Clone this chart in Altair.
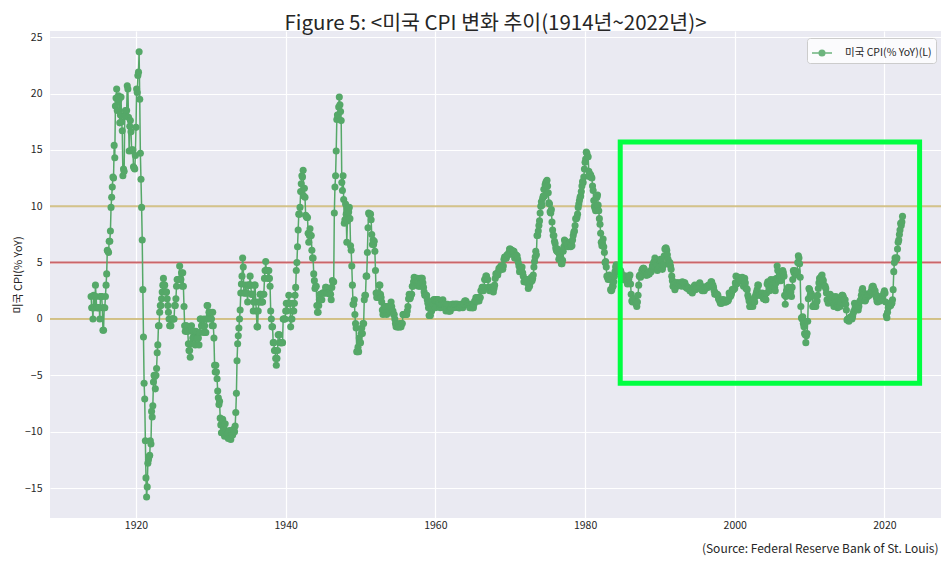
import altair as alt
import pandas as pd

# Monthly US CPI, % YoY, one row of 12 months per year
cpi_1910s = [
    [2.0, 1.0, 1.0, 0.0, 2.1, 1.0, 1.0, 3.0, 2.0, 1.0, 1.0, 1.0],            # 1914
    [1.0, 1.0, 0.0, 2.0, 2.0, 2.0, 1.0, -1.0, -1.0, 1.0, 1.0, 2.0],          # 1915
    [3.0, 4.0, 6.1, 6.0, 5.9, 6.9, 6.9, 7.8, 9.9, 10.8, 11.7, 12.6],         # 1916
    [12.5, 15.4, 14.3, 18.9, 19.6, 20.4, 18.5, 19.3, 19.8, 19.5, 17.4, 18.1],
    [19.7, 17.5, 16.7, 12.7, 13.3, 13.1, 18.0, 18.5, 18.0, 18.5, 20.7, 20.4],
    [17.9, 14.9, 17.1, 17.6, 16.6, 15.0, 14.9, 15.0, 13.5, 13.4, 13.3, 14.5],
]
cpi_1920s = [
    [17.0, 20.4, 20.1, 21.6, 21.9, 23.7, 19.5, 14.7, 12.4, 9.9, 7.0, 2.6],
    [-1.6, -5.7, -7.1, -10.8, -14.1, -15.8, -14.9, -12.8, -12.5, -12.2, -12.1, -10.8],
    [-11.1, -8.2, -8.7, -7.7, -5.6, -5.0, -5.1, -6.2, -5.0, -4.4, -3.0, -2.3],
    [-0.6, -0.6, 0.6, 1.2, 1.2, 1.8, 2.4, 3.0, 3.6, 3.0, 3.0, 2.4],
    [2.4, 2.4, 1.8, 1.2, 0.6, 0.0, -0.6, -0.6, -0.6, 0.0, 0.0, 0.0],
    [0.0, 0.0, 1.2, 1.2, 1.8, 2.9, 3.5, 3.5, 3.5, 3.5, 4.7, 3.5],
    [3.5, 4.1, 2.9, 4.1, 2.9, 1.1, -0.6, -1.1, -0.6, -0.6, -1.1, -1.1],
    [-2.2, -2.8, -2.8, -3.4, -2.2, -0.6, -1.1, -1.7, -1.7, -1.1, -1.7, -2.3],
    [-1.1, -1.7, -1.7, -1.7, -1.7, -2.3, -1.2, 0.0, 0.0, -0.6, -0.6, -0.6],
    [-1.2, 0.0, -0.6, -1.2, -1.2, 0.0, 1.2, 1.2, 0.0, 0.6, 0.6, 0.6],
]
cpi_1930s = [
    [0.0, 0.0, -0.6, 0.6, -0.6, -1.7, -4.1, -4.7, -4.1, -4.7, -5.3, -6.4],
    [-7.0, -7.6, -7.3, -8.8, -9.4, -10.1, -9.0, -8.9, -9.6, -9.7, -10.4, -9.3],
    [-10.1, -10.3, -10.2, -10.2, -10.6, -10.0, -9.9, -10.6, -10.7, -10.0, -10.2, -10.3],
    [-9.8, -9.8, -10.0, -9.5, -8.3, -6.6, -3.7, -2.2, -1.5, -0.8, 0.0, 0.8],
    [2.3, 3.1, 3.8, 5.4, 4.6, 2.3, 2.3, 2.3, 3.0, 2.3, 2.3, 1.5],
    [3.0, 3.0, 3.0, 3.8, 3.0, 2.2, 2.2, 2.2, 0.7, 1.5, 3.0, 3.0],
    [1.5, 0.7, -0.7, -0.7, 0.7, 1.5, 1.5, 2.2, 2.2, 1.5, 1.5, 1.5],
    [2.2, 2.2, 3.6, 4.3, 5.1, 4.3, 4.3, 4.3, 3.6, 4.3, 3.6, 2.9],
    [0.7, 0.0, -0.7, -0.7, -2.1, -2.1, -2.8, -2.8, -3.5, -4.1, -3.5, -2.8],
    [-1.4, -1.4, -1.4, -2.1, -2.1, -2.1, -2.1, -2.1, 0.0, 0.0, 0.0, 0.0],
]
cpi_1940s = [
    [0.7, 1.4, 0.7, 1.4, 1.4, 2.1, 1.4, 1.4, -0.7, 0.0, 0.0, 0.7],
    [1.4, 0.7, 1.4, 2.1, 2.8, 4.3, 5.0, 6.4, 7.9, 9.3, 9.3, 9.9],
    [11.3, 12.0, 12.7, 12.6, 13.2, 10.9, 11.6, 10.8, 9.2, 9.1, 9.0, 9.0],
    [7.6, 6.8, 7.4, 8.0, 7.4, 7.4, 6.1, 5.4, 5.4, 4.0, 3.4, 2.7],
    [2.9, 2.9, 1.2, 0.6, 0.6, 1.2, 1.7, 2.2, 1.7, 1.7, 1.7, 2.3],
    [2.3, 2.3, 2.3, 2.3, 2.8, 2.8, 2.3, 2.3, 2.3, 2.3, 2.3, 2.2],
    [2.2, 1.7, 2.8, 3.4, 3.3, 3.3, 9.4, 11.7, 12.7, 14.9, 17.7, 18.1],
    [18.1, 18.8, 19.7, 19.0, 18.4, 17.6, 12.1, 11.4, 12.7, 10.6, 8.5, 8.8],
    [10.2, 9.3, 6.8, 8.7, 9.1, 9.5, 9.9, 8.9, 6.5, 6.1, 4.7, 3.0],
    [1.3, 1.3, 1.7, 0.4, -0.4, -0.8, -2.9, -2.9, -2.5, -2.9, -1.7, -2.1],
]
cpi_1950s = [
    [-2.1, -1.3, -0.8, -1.3, -0.4, -0.4, 1.7, 2.1, 2.1, 3.8, 3.8, 5.9],
    [8.1, 9.4, 9.3, 9.3, 9.3, 8.8, 7.5, 6.6, 7.0, 6.6, 6.9, 6.0],
    [4.3, 2.3, 1.9, 2.3, 1.9, 2.3, 3.0, 3.0, 2.2, 1.9, 1.5, 0.8],
    [0.4, 0.8, 1.1, 0.8, 1.1, 1.1, 0.4, 0.7, 0.7, 1.1, 0.7, 0.7],
    [1.1, 1.5, 1.1, 0.7, 0.7, 0.4, 0.4, 0.0, -0.4, -0.7, -0.4, -0.7],
    [-0.7, -0.7, -0.7, -0.4, -0.7, -0.7, -0.4, -0.4, 0.4, 0.4, 0.4, 0.4],
    [0.4, 0.4, 0.4, 0.7, 1.1, 1.8, 2.2, 1.8, 1.9, 2.2, 2.2, 2.9],
    [2.9, 3.3, 3.7, 3.6, 3.6, 3.3, 3.3, 3.6, 3.3, 2.9, 3.3, 2.9],
    [3.6, 3.2, 3.6, 3.6, 3.2, 2.8, 2.4, 2.1, 2.1, 2.1, 2.1, 1.7],
    [1.4, 1.0, 0.3, 0.3, 0.3, 0.7, 0.7, 1.0, 1.3, 1.7, 1.7, 1.7],
]
cpi_1960s = [
    [1.0, 1.7, 1.7, 1.7, 1.7, 1.7, 1.4, 1.4, 1.0, 1.3, 1.3, 1.3],
    [1.7, 1.3, 1.3, 1.0, 1.0, 0.7, 1.3, 1.0, 1.3, 0.7, 0.7, 0.7],
    [0.7, 1.0, 1.0, 1.3, 1.3, 1.3, 1.0, 1.3, 1.3, 1.3, 1.3, 1.3],
    [1.3, 1.0, 1.0, 1.0, 1.0, 1.3, 1.3, 1.3, 1.0, 1.3, 1.3, 1.6],
    [1.6, 1.6, 1.3, 1.3, 1.3, 1.3, 1.3, 1.0, 1.3, 1.0, 1.3, 1.0],
    [1.0, 1.0, 1.3, 1.6, 1.6, 1.9, 1.6, 1.9, 1.6, 1.9, 1.6, 1.9],
    [1.9, 2.5, 2.5, 2.8, 2.8, 2.5, 2.8, 3.5, 3.5, 3.8, 3.8, 3.5],
    [3.5, 2.8, 2.8, 2.5, 2.8, 2.8, 2.8, 2.5, 2.8, 2.4, 2.7, 3.0],
    [3.6, 4.0, 4.0, 3.9, 3.9, 4.2, 4.5, 4.5, 4.4, 4.7, 4.7, 4.7],
    [4.4, 4.7, 5.3, 5.5, 5.5, 5.5, 5.4, 5.7, 5.7, 5.7, 5.9, 6.2],
]
cpi_1970s = [
    [6.2, 6.1, 5.8, 6.1, 6.0, 6.0, 6.0, 5.4, 5.7, 5.7, 5.6, 5.6],
    [5.3, 5.0, 4.7, 4.2, 4.4, 4.6, 4.4, 4.6, 4.1, 3.8, 3.3, 3.3],
    [3.3, 3.5, 3.5, 3.5, 3.2, 2.7, 2.9, 2.9, 3.2, 3.4, 3.7, 3.4],
    [3.6, 3.9, 4.6, 5.1, 5.5, 6.0, 5.7, 7.4, 7.4, 7.8, 8.3, 8.7],
    [9.4, 10.0, 10.4, 10.1, 10.7, 10.9, 11.5, 10.9, 11.9, 12.1, 12.2, 12.3],
    [11.8, 11.2, 10.3, 10.2, 9.5, 9.4, 9.7, 8.6, 7.9, 7.4, 7.4, 6.9],
    [6.7, 6.3, 6.1, 6.0, 6.2, 5.9, 5.3, 5.7, 5.5, 5.5, 4.9, 4.9],
    [5.2, 6.0, 6.4, 7.0, 6.7, 6.9, 6.8, 6.6, 6.6, 6.4, 6.7, 6.7],
    [6.8, 6.4, 6.6, 6.5, 7.0, 7.4, 7.7, 7.8, 8.3, 8.9, 8.9, 9.0],
    [9.3, 9.9, 10.2, 10.5, 10.8, 10.9, 11.3, 11.8, 12.2, 12.1, 12.6, 13.3],
]
cpi_1980s = [
    [13.9, 14.2, 14.8, 14.7, 14.4, 14.4, 13.1, 12.9, 12.6, 12.8, 12.6, 12.5],
    [11.8, 11.4, 10.5, 10.0, 9.8, 9.6, 10.8, 10.8, 11.0, 10.1, 9.6, 8.9],
    [8.4, 7.6, 6.8, 6.5, 6.7, 7.1, 6.4, 5.9, 5.0, 5.1, 4.6, 3.8],
    [3.7, 3.5, 3.6, 3.9, 3.5, 2.6, 2.5, 2.6, 2.9, 2.9, 3.3, 3.8],
    [4.2, 4.6, 4.8, 4.6, 4.2, 4.2, 4.2, 4.3, 4.3, 4.3, 4.1, 3.9],
    [3.5, 3.5, 3.7, 3.7, 3.8, 3.8, 3.6, 3.3, 3.1, 3.2, 3.5, 3.8],
    [3.9, 3.1, 2.2, 1.6, 1.5, 1.8, 1.6, 1.6, 1.8, 1.5, 1.3, 1.1],
    [1.5, 2.1, 3.0, 3.8, 3.9, 3.7, 3.9, 4.3, 4.4, 4.5, 4.5, 4.4],
    [4.0, 3.9, 3.9, 3.9, 3.9, 4.0, 4.1, 4.0, 4.2, 4.2, 4.2, 4.4],
    [4.7, 4.8, 5.0, 5.1, 5.4, 5.2, 5.0, 4.7, 4.3, 4.5, 4.7, 4.6],
]
cpi_1990s = [
    [5.2, 5.3, 5.2, 4.7, 4.4, 4.7, 4.8, 5.6, 6.2, 6.3, 6.3, 6.1],
    [5.7, 5.3, 4.9, 4.9, 5.0, 4.7, 4.4, 3.8, 3.4, 2.9, 3.0, 3.1],
    [2.6, 2.8, 3.2, 3.2, 3.0, 3.1, 3.2, 3.1, 3.0, 3.2, 3.0, 2.9],
    [3.3, 3.2, 3.1, 3.2, 3.2, 3.0, 2.8, 2.8, 2.7, 2.8, 2.7, 2.7],
    [2.5, 2.5, 2.5, 2.4, 2.3, 2.5, 2.8, 2.9, 3.0, 2.6, 2.7, 2.7],
    [2.8, 2.9, 2.9, 3.1, 3.2, 3.0, 2.8, 2.6, 2.5, 2.8, 2.6, 2.5],
    [2.7, 2.7, 2.8, 2.9, 2.9, 2.8, 3.0, 2.9, 3.0, 3.0, 3.3, 3.3],
    [3.0, 3.0, 2.8, 2.5, 2.2, 2.3, 2.2, 2.2, 2.2, 2.1, 1.8, 1.7],
    [1.6, 1.4, 1.4, 1.4, 1.7, 1.7, 1.7, 1.6, 1.5, 1.5, 1.5, 1.6],
    [1.7, 1.6, 1.7, 2.3, 2.1, 2.0, 2.1, 2.3, 2.6, 2.6, 2.6, 2.7],
]
cpi_2000s = [
    [2.7, 3.2, 3.8, 3.1, 3.2, 3.7, 3.7, 3.4, 3.5, 3.4, 3.4, 3.4],
    [3.7, 3.5, 2.9, 3.3, 3.6, 3.2, 2.7, 2.7, 2.6, 2.1, 1.9, 1.6],
    [1.1, 1.1, 1.5, 1.6, 1.2, 1.1, 1.5, 1.8, 1.5, 2.0, 2.2, 2.4],
    [2.6, 3.0, 3.0, 2.2, 2.1, 2.1, 2.1, 2.2, 2.3, 2.0, 1.8, 1.9],
    [1.9, 1.7, 1.7, 2.3, 3.1, 3.3, 3.0, 2.7, 2.5, 3.2, 3.5, 3.3],
    [3.0, 3.0, 3.1, 3.5, 2.8, 2.5, 3.2, 3.6, 4.7, 4.3, 3.5, 3.4],
    [4.0, 3.6, 3.4, 3.5, 4.2, 4.3, 4.1, 3.8, 2.1, 1.3, 2.0, 2.5],
    [2.1, 2.4, 2.8, 2.6, 2.7, 2.7, 2.4, 2.0, 2.8, 3.5, 4.3, 4.1],
    [4.3, 4.0, 4.0, 3.9, 4.2, 5.0, 5.6, 5.4, 4.9, 3.7, 1.1, 0.1],
    [0.0, 0.2, -0.4, -0.7, -1.3, -1.4, -2.1, -1.5, -1.3, -0.2, 1.8, 2.7],
]
cpi_2010s = [
    [2.6, 2.1, 2.3, 2.2, 2.0, 1.1, 1.2, 1.1, 1.1, 1.2, 1.1, 1.5],
    [1.6, 2.1, 2.7, 3.2, 3.6, 3.6, 3.6, 3.8, 3.9, 3.5, 3.4, 3.0],
    [2.9, 2.9, 2.7, 2.3, 1.7, 1.7, 1.4, 1.7, 2.0, 2.2, 1.8, 1.7],
    [1.6, 2.0, 1.5, 1.1, 1.4, 1.8, 2.0, 1.5, 1.2, 1.0, 1.2, 1.5],
    [1.6, 1.1, 1.5, 2.0, 2.1, 2.1, 2.0, 1.7, 1.7, 1.7, 1.3, 0.8],
    [-0.1, 0.0, -0.1, -0.2, 0.0, 0.1, 0.2, 0.2, 0.0, 0.2, 0.5, 0.7],
    [1.4, 1.0, 0.9, 1.1, 1.0, 1.0, 0.8, 1.1, 1.5, 1.6, 1.7, 2.1],
    [2.5, 2.7, 2.4, 2.2, 1.9, 1.6, 1.7, 1.9, 2.2, 2.0, 2.2, 2.1],
    [2.1, 2.2, 2.4, 2.5, 2.8, 2.9, 2.9, 2.7, 2.3, 2.5, 2.2, 1.9],
    [1.6, 1.5, 1.9, 2.0, 1.8, 1.6, 1.8, 1.7, 1.7, 1.8, 2.1, 2.3],
]
cpi_2020s = [
    [2.5, 2.3, 1.5, 0.3, 0.1, 0.6, 1.0, 1.3, 1.4, 1.2, 1.2, 1.4],
    [1.4, 1.7, 2.6, 4.2, 5.0, 5.4, 5.4, 5.3, 5.4, 6.2, 6.8, 7.0],
    [7.5, 7.9, 8.5, 8.3, 8.6, 9.1],
]
decade_starts = [1914, 1920, 1930, 1940, 1950, 1960, 1970, 1980, 1990, 2000, 2010, 2020]
decades = [cpi_1910s, cpi_1920s, cpi_1930s, cpi_1940s, cpi_1950s, cpi_1960s,
           cpi_1970s, cpi_1980s, cpi_1990s, cpi_2000s, cpi_2010s, cpi_2020s]

ref_levels = [10, 0, 5]
ref_colors = ["#ccb974", "#ccb974", "#c44e52"]
box_years = [1984.7, 2024.7]
box_values = [-5.7, 15.7]

series_name = "미국 CPI(% YoY)(L)"
title_text = "Figure 5: <미국 CPI 변화 추이(1914년~2022년)>"
source_text = "(Source: Federal Reserve Bank of St. Louis)"

rows = []
for start, rows_of_year in zip(decade_starts, decades):
    for i, months in enumerate(rows_of_year):
        for m, v in enumerate(months):
            rows.append({"t": start + i + m / 12.0, "v": v, "s": series_name})
df = pd.DataFrame(rows)

ref_df = pd.DataFrame({"y": ref_levels, "c": ref_colors})
box_df = pd.DataFrame({"x": [box_years[0]], "x2": [box_years[1]],
                       "y": [box_values[0]], "y2": [box_values[1]]})

FONT = "Noto Sans CJK KR"
xscale = alt.Scale(domain=[1908.51, 2027.56], nice=False, zero=False)
yscale = alt.Scale(domain=[-17.66, 25.55], nice=False, zero=False)

xaxis = alt.Axis(values=[1920, 1940, 1960, 1980, 2000, 2020], format="d",
                 title=source_text, titleAnchor="end", titleAlign="right",
                 titleFontSize=12, titleFontWeight="normal", titlePadding=13,
                 titleColor="#262626", titleX=888)
yaxis = alt.Axis(values=[-15, -10, -5, 0, 5, 10, 15, 20, 25],
                 title="미국 CPI(% YoY)", titleFontSize=11,
                 titleFontWeight="normal", titleColor="#262626", titlePadding=1,
                 labelPadding=8)

rules = alt.Chart(ref_df).mark_rule(strokeWidth=2, opacity=0.85).encode(
    y=alt.Y("y:Q", scale=yscale, axis=yaxis),
    color=alt.Color("c:N", scale=None),
)

legend_path = "M-1,0H1M-0.28,0a0.28,0.28 0 1,0 0.56,0a0.28,0.28 0 1,0 -0.56,0"
line = alt.Chart(df).mark_line(strokeWidth=1.5).encode(
    x=alt.X("t:Q", scale=xscale, axis=xaxis),
    y=alt.Y("v:Q", scale=yscale),
    color=alt.Color("s:N", scale=alt.Scale(domain=[series_name], range=["#55a868"]),
                    legend=alt.Legend(title=None, orient="none", legendX=757, legendY=7,
                                      symbolType=legend_path, symbolSize=400,
                                      symbolStrokeWidth=1.5,
                                      symbolFillColor="#55a868",
                                      symbolStrokeColor="#55a868",
                                      labelFontSize=10.5, labelFont=FONT,
                                      labelColor="#262626", labelOffset=12,
                                      padding=4, fillColor="rgba(255,255,255,0.8)",
                                      strokeColor="#cccccc", cornerRadius=3)),
)
points = alt.Chart(df).mark_circle(size=50, opacity=1, color="#55a868").encode(
    x=alt.X("t:Q", scale=xscale),
    y=alt.Y("v:Q", scale=yscale),
)
box = alt.Chart(box_df).mark_rect(filled=False, stroke="#00ff41", strokeWidth=5).encode(
    x=alt.X("x:Q", scale=xscale), x2="x2:Q",
    y=alt.Y("y:Q", scale=yscale), y2="y2:Q",
)

chart = alt.layer(rules, line, points, box).properties(
    width=891, height=487,
    background="white",
    autosize=alt.AutoSizeParams(type="none"),
    padding={"left": 42, "top": 23, "right": 0, "bottom": 38},
    title=alt.Title(title_text, fontSize=20.5, font=FONT, fontWeight="normal",
                    color="#262626", anchor="middle", offset=-3),
).configure_view(fill="#eaeaf2", stroke=None).configure_axis(
    grid=True, gridColor="white", gridWidth=1.2, domain=False, ticks=False,
    labelFont=FONT, titleFont=FONT, labelFontSize=10.5, labelColor="#262626",
)

chart.save("out.html", embed_options={"renderer": "svg", "actions": False})
